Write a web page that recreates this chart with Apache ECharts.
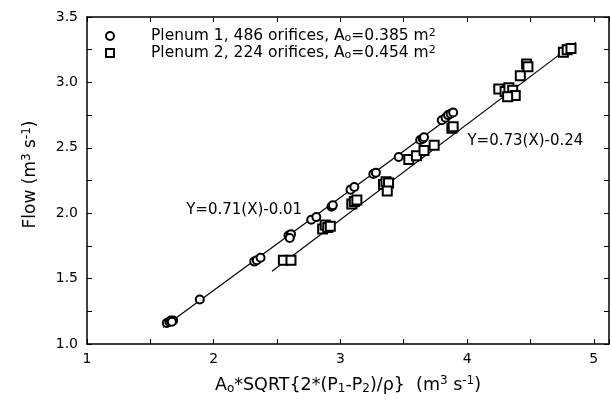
<!DOCTYPE html>
<html><head><meta charset="utf-8">
<script src="https://cdn.jsdelivr.net/npm/echarts@6/dist/echarts.min.js"></script>
<style>html,body{margin:0;padding:0;background:#fff}#c{width:612px;height:400px}</style>
</head><body><div id="c"></div>
<script>
var seriesNames = ['Plenum 1', 'Plenum 2'];
var legendLabels = ['Plenum 1, 486 orifices, A{s|o}=0.385 m{p|2}', 'Plenum 2, 224 orifices, A{s|o}=0.454 m{p|2}'];
var plenum1 = [[1.63,1.16],[1.65,1.17],[1.66,1.18],[1.68,1.18],[1.67,1.17],
  [1.89,1.34],
  [2.32,1.63],[2.34,1.64],[2.37,1.66],
  [2.59,1.83],[2.61,1.84],[2.60,1.81],
  [2.77,1.95],[2.81,1.97],
  [2.93,2.05],[2.94,2.06],
  [3.08,2.18],[3.11,2.20],
  [3.26,2.30],[3.28,2.31],
  [3.46,2.43],
  [3.63,2.56],[3.65,2.57],[3.66,2.58],
  [3.80,2.71],[3.83,2.73],[3.85,2.75],[3.87,2.76],[3.89,2.77]];
var plenum2 = [[2.55,1.64],[2.61,1.64],
  [2.86,1.88],[2.88,1.91],[2.90,1.89],[2.92,1.90],
  [3.09,2.07],[3.11,2.09],[3.13,2.10],
  [3.34,2.22],[3.36,2.24],[3.38,2.23],[3.37,2.17],
  [3.54,2.41],[3.60,2.44],[3.66,2.48],[3.74,2.52],[3.88,2.65],[3.89,2.66],
  [4.25,2.95],[4.30,2.93],[4.33,2.96],[4.36,2.94],[4.38,2.90],[4.32,2.89],
  [4.42,3.05],[4.47,3.14],[4.48,3.12],
  [4.76,3.23],[4.79,3.25],[4.82,3.26]];
var fit1 = [[1.60,1.126],[3.92,2.773]];
var fit2 = [[2.46,1.556],[4.86,3.308]];
var annotations = [{pos:[2.24,2.02], text:'Y=0.71(X)-0.01'},{pos:[4.46,2.55], text:'Y=0.73(X)-0.24'}];
var xTicks = [1,2,3,4,5];
var yTicks = [1.0,1.5,2.0,2.5,3.0,3.5];

var FONT = '"DejaVu Sans", "Liberation Sans", sans-serif';
function subsup(sz, fam){
  return {
    s: {fontSize: sz, fontFamily: fam, color:'#000', verticalAlign:'bottom', lineHeight: sz},
    p: {fontSize: sz, fontFamily: fam, color:'#000', verticalAlign:'top', lineHeight: sz}
  };
}
var chart = echarts.init(document.getElementById('c'), null, {renderer:'canvas'});
function axisCommon(){
  return {
    axisLine:{show:true, lineStyle:{color:'#000', width:1.5}},
    axisTick:{show:true, inside:true, length:5, lineStyle:{color:'#000', width:1}},
    minorTick:{show:true, splitNumber:2, length:5, lineStyle:{color:'#000', width:1}},
    splitLine:{show:false}
  };
}
var option = {
  animation:false,
  backgroundColor:'#fff',
  grid:{left:87, right:1, top:17, bottom:51, containLabel:false},
  legend:{
    data: seriesNames, orient:'vertical', left:100, top:23, itemGap:1,
    itemWidth:8, itemHeight:8, selectedMode:false,
    formatter:function(n){ return legendLabels[seriesNames.indexOf(n)]; },
    textStyle:{fontFamily:FONT, fontSize:15.5, color:'#000', padding:[0,0,0,32], lineHeight:16, rich: subsup(11, FONT)}
  },
  xAxis:[Object.assign({
    type:'value', min:1, max:5.12, interval:1, position:'bottom',
    axisLabel:{fontFamily:FONT, fontSize:14, color:'#000', margin:8,
      formatter:function(v){ return xTicks.indexOf(v) >= 0 ? String(v) : ''; }},
    name:'A{s|o}*SQRT{2*(P{s|1}-P{s|2})/ρ}  (m{p|3} s{p|-1})',
    nameLocation:'middle', nameGap:31,
    nameTextStyle:{fontFamily:FONT, fontSize:17.5, color:'#000', lineHeight:20, rich: subsup(12, FONT)}
  }, axisCommon()),
  Object.assign({type:'value', min:1, max:5.12, interval:1, position:'top', axisLabel:{show:false}}, axisCommon())],
  yAxis:[Object.assign({
    type:'value', min:1, max:3.5, interval:0.5, position:'left',
    axisLabel:{fontFamily:FONT, fontSize:14, color:'#000', margin:9,
      formatter:function(v){ return v.toFixed(1); }},
    name:'Flow (m{p|3} s{p|-1})', nameLocation:'middle', nameGap:46, nameRotate:90,
    nameTextStyle:{fontFamily:FONT, fontSize:17, color:'#000', lineHeight:20, padding:[0,0,0,12], rich: subsup(12, FONT)}
  }, axisCommon()),
  Object.assign({type:'value', min:1, max:3.5, interval:0.5, position:'right', axisLabel:{show:false}}, axisCommon())],
  series:[
    {name:seriesNames[0], type:'scatter', data:plenum1, symbol:'emptyCircle', symbolSize:8,
      itemStyle:{color:'#000', borderColor:'#000', borderWidth:1.4, opacity:1}, z:3},
    {name:seriesNames[1], type:'scatter', data:plenum2, symbol:'emptyRect', symbolSize:9,
      itemStyle:{color:'#000', borderColor:'#000', borderWidth:1.4, opacity:1}, z:3},
    {name:'fit1', type:'line', data:fit1, symbol:'none', lineStyle:{color:'#000', width:1.2}, z:2},
    {name:'fit2', type:'line', data:fit2, symbol:'none', lineStyle:{color:'#000', width:1.2}, z:2},
    {name:'notes', type:'scatter', symbolSize:0, silent:true, itemStyle:{opacity:1},
      data: annotations.map(function(a){ return {value:a.pos, label:{show:true, position:'inside', formatter:a.text,
        color:'#000', textBorderWidth:0, fontFamily:FONT, fontSize:15}}; }),
      label:{fontFamily:FONT, fontSize:15, color:'#000', textBorderWidth:0}}
  ]
};
chart.setOption(option);
</script></body></html>
